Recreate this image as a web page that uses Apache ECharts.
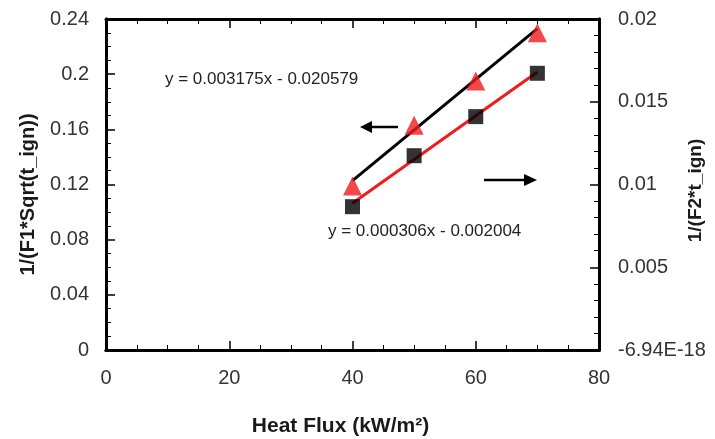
<!DOCTYPE html>
<html lang="en">
<head>
<meta charset="UTF-8">
<title>heat flux</title>
<style type="text/css">
body,html{ width:100%; height:100%; margin:0; padding:0; background:#fff; }
#container{ width:715px; height:439px; }
</style>
</head>
<body>
<div id="container"></div>
<script type="text/javascript" src="https://cdn.jsdelivr.net/npm/echarts@6/dist/echarts.min.js"></script>
<script type="text/javascript">
var heatFlux = [40, 50, 60, 70];
var invF1 = [0.119, 0.163, 0.195, 0.230];      // red triangles, left axis
var invF2 = [0.00866, 0.01174, 0.0141, 0.01672]; // black squares, right axis
// fitted line ends
var fitX = [40, 70];
var fitLeft = [0.1228, 0.2330];
var fitRight = [0.00887, 0.0168];
var leftTicks = ['0', '0.04', '0.08', '0.12', '0.16', '0.2', '0.24'];
var rightTicks = ['-6.94E-18', '0.005', '0.01', '0.015', '0.02'];

function pairs(xs, ys) {
	return xs.map(function (x, i) { return [x, ys[i]]; });
}

var font = 'Liberation Sans, Arial, sans-serif';
function axisLine() {
	return { show: true, onZero: false, lineStyle: { color: '#000', width: 3 } };
}
function nameStyle(size, pad) {
	return { fontFamily: font, fontSize: size, fontWeight: 'bold', color: '#1a1a1a', padding: pad };
}
// label-free copy of an axis, only there to carry the inside ticks
function tickAxis(pos, min, max, step, minorSplit) {
	return {
		type: 'value', min: min, max: max, interval: step, position: pos,
		axisLine: axisLine(),
		axisTick: { show: true, inside: true, length: 9, lineStyle: { color: '#000', width: 1.5 } },
		minorTick: { show: true, splitNumber: minorSplit, length: 5, lineStyle: { color: '#000', width: 1 } },
		axisLabel: { show: false }, splitLine: { show: false }
	};
}

var option = {
	backgroundColor: '#fff',
	animation: false,
	grid: { left: 106, right: 116, top: 19, bottom: 89, outerBoundsMode: 'none', containLabel: false },
	xAxis: [{
		type: 'value', min: 0, max: 80, interval: 20, position: 'bottom',
		name: 'Heat Flux (kW/m²)', nameLocation: 'middle', nameGap: 66, nameMoveOverlap: false,
		nameTextStyle: nameStyle(21, [0, 24, 0, 0]),
		axisLine: axisLine(), axisTick: { show: false },
		axisLabel: { fontFamily: font, fontSize: 20, color: '#333', margin: 18 },
		splitLine: { show: false }
	},
	tickAxis('top', 0, 80, 20, 4),
	tickAxis('bottom', 0, 80, 20, 4)],
	yAxis: [{
		type: 'value', min: 0, max: 0.24, interval: 0.04, position: 'left',
		name: '1/(F1*Sqrt(t_ign))', nameLocation: 'middle', nameGap: 68, nameRotate: 90, nameMoveOverlap: false,
		nameTextStyle: nameStyle(20, [0, 20, 0, 0]),
		axisLine: axisLine(), axisTick: { show: false },
		axisLabel: {
			fontFamily: font, fontSize: 20, color: '#333', margin: 17,
			formatter: function (v) { return leftTicks[Math.round(v / 0.04)]; }
		},
		splitLine: { show: false }
	}, {
		type: 'value', min: 0, max: 0.02, interval: 0.005, position: 'right',
		name: '1/(F2*t_ign)', nameLocation: 'middle', nameGap: 87, nameRotate: 90, nameMoveOverlap: false,
		nameTextStyle: nameStyle(19, [0, 12, 0, 0]),
		axisLine: axisLine(), axisTick: { show: false },
		axisLabel: {
			fontFamily: font, fontSize: 20, color: '#333', margin: 19,
			formatter: function (v) { return rightTicks[Math.round(v / 0.005)]; }
		},
		splitLine: { show: false }
	},
	tickAxis('left', 0, 0.24, 0.04, 4),
	tickAxis('right', 0, 0.02, 0.005, 5)],
	series: [{
		type: 'line', yAxisIndex: 0, data: pairs(fitX, fitLeft),
		symbol: 'none', lineStyle: { color: '#000', width: 3 }, z: 2
	}, {
		type: 'line', yAxisIndex: 1, data: pairs(fitX, fitRight),
		symbol: 'none', lineStyle: { color: '#ee1c1c', width: 3 }, z: 2
	}, {
		type: 'scatter', yAxisIndex: 0, data: pairs(heatFlux, invF1),
		symbol: 'triangle', symbolSize: 19, itemStyle: { color: '#ee1c1c' }, z: 3
	}, {
		type: 'scatter', yAxisIndex: 1, data: pairs(heatFlux, invF2),
		symbol: 'rect', symbolSize: 15, itemStyle: { color: '#000' }, z: 3
	}],
	graphic: [
		{ type: 'text', left: 165, top: 71, style: { text: 'y = 0.003175x - 0.020579', font: '17px ' + font, fill: '#222' } },
		{ type: 'text', left: 328, top: 223, style: { text: 'y = 0.000306x - 0.002004', font: '17px ' + font, fill: '#222' } },
		{ type: 'line', shape: { x1: 368, y1: 127, x2: 398, y2: 127 }, style: { stroke: '#000', lineWidth: 2.5 } },
		{ type: 'polygon', shape: { points: [[360, 127], [372, 121], [372, 133]] }, style: { fill: '#000' } },
		{ type: 'line', shape: { x1: 484, y1: 180, x2: 526, y2: 180 }, style: { stroke: '#000', lineWidth: 2.5 } },
		{ type: 'polygon', shape: { points: [[537, 180], [524, 174], [524, 186]] }, style: { fill: '#000' } }
	]
};

var chart = echarts.init(document.getElementById('container'));
chart.setOption(option);
</script>
</body>
</html>
